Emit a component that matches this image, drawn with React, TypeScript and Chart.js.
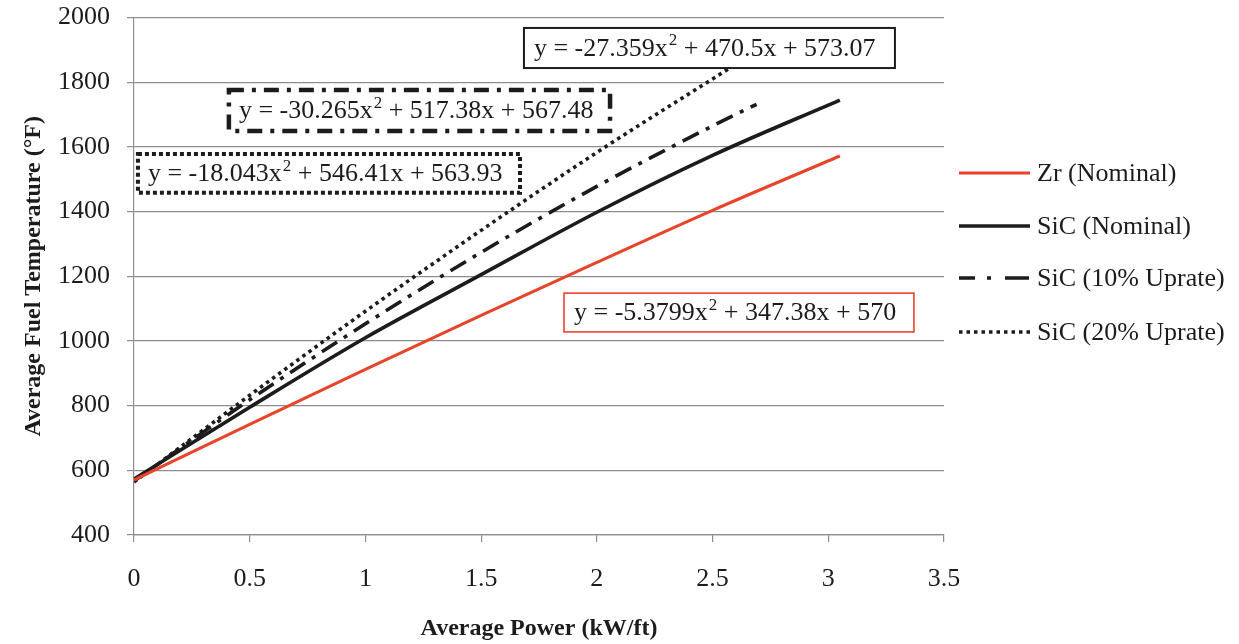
import React, { useEffect, useRef } from "react";
import { Chart, registerables } from "chart.js";

Chart.register(...registerables);

// Average linear power (kW/ft) and average fuel temperature (°F) per case
const powerZr = [0, 0.5, 1, 1.5, 2, 2.5, 3.05];
const tempZr = [570, 742, 912, 1079, 1243, 1404, 1572];

const powerSiC = [0, 0.5, 1, 1.5, 2, 2.5, 3.05];
const tempSiC = [573, 795, 1010, 1205, 1398, 1574, 1745];

const powerSiC10 = [0, 0.5, 1, 1.5, 2, 2.5, 2.69];
const tempSiC10 = [567, 818, 1053, 1274, 1478, 1665, 1732];

const powerSiC20 = [0, 0.5, 1, 1.5, 2, 2.57];
const tempSiC20 = [564, 832, 1092, 1342, 1583, 1842];

const seriesNames = ["Zr (Nominal)", "SiC (Nominal)", "SiC (10% Uprate)", "SiC (20% Uprate)"];

// Quadratic trendline equations: [text before exponent, exponent, text after]
const fitZr = ["y = -5.3799x", "2", " + 347.38x + 570"];
const fitSiC = ["y = -27.359x", "2", " + 470.5x + 573.07"];
const fitSiC10 = ["y = -30.265x", "2", " + 517.38x + 567.48"];
const fitSiC20 = ["y = -18.043x", "2", " + 546.41x + 563.93"];

const xTickLabels = ["0", "0.5", "1", "1.5", "2", "2.5", "3", "3.5"];

const RED = "#e8442b";
const INK = "#1c1c1c";
const GRID = "#8e8e8e";
const SERIF = "'Liberation Serif', 'Times New Roman', serif";

const DASH_DOT = [18, 8, 4, 8];
const DOTTED = [3.5, 4];

type Style = { color: string; width: number; dash: number[] };
const styles: Style[] = [
  { color: RED, width: 3, dash: [] },
  { color: INK, width: 3.6, dash: [] },
  { color: INK, width: 3.6, dash: DASH_DOT },
  { color: INK, width: 3.6, dash: DOTTED },
];

// Equation boxes, placed in axis units (x1, x2 in kW/ft; yTop, yBottom in °F)
const fitBoxes = [
  { parts: fitSiC, x1: 1.685, x2: 3.288, yTop: 1968, yBottom: 1844, border: INK, width: 2, dash: [] as number[] },
  { parts: fitSiC10, x1: 0.41, x2: 2.057, yTop: 1776, yBottom: 1649, border: INK, width: 4.5, dash: [15, 8, 4, 8] },
  { parts: fitSiC20, x1: 0.017, x2: 1.668, yTop: 1578, yBottom: 1458, border: INK, width: 4, dash: [4, 3] },
  { parts: fitZr, x1: 1.858, x2: 3.37, yTop: 1148, yBottom: 1028, border: RED, width: 1.6, dash: [] },
];

const toPoints = (xs: number[], ys: number[]) => xs.map((x, i) => ({ x, y: ys[i] }));

const overlayPlugin = {
  id: "fitBoxesAndLegend",
  afterDraw(chart: any) {
    const { ctx, scales } = chart;
    const xs = scales.x;
    const ys = scales.y;
    ctx.save();

    // trendline equation boxes
    for (const b of fitBoxes) {
      const l = xs.getPixelForValue(b.x1);
      const r = xs.getPixelForValue(b.x2);
      const t = ys.getPixelForValue(b.yTop);
      const bt = ys.getPixelForValue(b.yBottom);
      ctx.fillStyle = "#ffffff";
      ctx.fillRect(l, t, r - l, bt - t);
      ctx.strokeStyle = b.border;
      ctx.lineWidth = b.width;
      ctx.setLineDash(b.dash);
      ctx.lineCap = "butt";
      ctx.strokeRect(l, t, r - l, bt - t);
      ctx.setLineDash([]);

      const cy = (t + bt) / 2;
      let tx = l + 10;
      ctx.fillStyle = INK;
      ctx.textBaseline = "middle";
      ctx.textAlign = "left";
      ctx.font = `26px ${SERIF}`;
      ctx.fillText(b.parts[0], tx, cy + 1);
      tx += ctx.measureText(b.parts[0]).width + 1;
      ctx.font = `17px ${SERIF}`;
      ctx.fillText(b.parts[1], tx, cy - 7);
      tx += ctx.measureText(b.parts[1]).width;
      ctx.font = `26px ${SERIF}`;
      ctx.fillText(b.parts[2], tx, cy + 1);
    }

    // legend
    const lx1 = 959;
    const lx2 = 1030;
    const rowY = [173, 226, 278, 332];
    seriesNames.forEach((name, i) => {
      const s = styles[i];
      const y = rowY[i];
      ctx.strokeStyle = s.color;
      ctx.lineWidth = s.width;
      ctx.setLineDash(i === 2 ? [16, 12, 4, 14, 24] : s.dash);
      ctx.beginPath();
      ctx.moveTo(lx1, y);
      ctx.lineTo(lx2, y);
      ctx.stroke();
      ctx.setLineDash([]);
      ctx.fillStyle = INK;
      ctx.font = `26px ${SERIF}`;
      ctx.textAlign = "left";
      ctx.textBaseline = "middle";
      ctx.fillText(name, 1037, y + 1);
    });
    ctx.restore();
  },
};

export default function App() {
  const canvasRef = useRef<HTMLCanvasElement | null>(null);

  useEffect(() => {
    if (!canvasRef.current) return;
    const series = [
      toPoints(powerZr, tempZr),
      toPoints(powerSiC, tempSiC),
      toPoints(powerSiC10, tempSiC10),
      toPoints(powerSiC20, tempSiC20),
    ];
    const chart = new Chart(canvasRef.current, {
      type: "line",
      data: {
        datasets: series.map((data, i) => ({
          label: seriesNames[i],
          data,
          borderColor: styles[i].color,
          borderWidth: styles[i].width,
          borderDash: styles[i].dash,
          borderCapStyle: "butt",
          pointRadius: 0,
          fill: false,
          cubicInterpolationMode: "monotone",
        })),
      },
      options: {
        animation: false,
        responsive: false,
        devicePixelRatio: 1,
        layout: { padding: { left: 0, right: 295, top: 17.6, bottom: 0 } },
        plugins: { legend: { display: false }, tooltip: { enabled: false } },
        scales: {
          x: {
            type: "linear",
            min: 0,
            max: 3.5,
            afterFit: (s: any) => {
              s.height = 109;
              s.paddingLeft = 0;
              s.paddingRight = 0;
            },
            afterBuildTicks: (s: any) => {
              s.ticks = xTickLabels.map((t) => ({ value: parseFloat(t) }));
            },
            ticks: {
              font: { family: SERIF, size: 26 },
              color: INK,
              padding: 22,
              maxRotation: 0,
              autoSkip: false,
              callback: (v: any) => xTickLabels.find((t) => parseFloat(t) === v) ?? "",
            },
            grid: { drawOnChartArea: false, drawTicks: true, tickLength: 7, color: GRID, lineWidth: 1.2 },
            border: { color: GRID, width: 1.2 },
            title: {
              display: true,
              text: "Average Power (kW/ft)",
              font: { family: SERIF, size: 24, weight: "bold" },
              color: INK,
              padding: { top: 0, bottom: 1 },
            },
          },
          y: {
            type: "linear",
            min: 400,
            max: 2000,
            afterFit: (s: any) => {
              s.width = 134;
              s.paddingTop = 0;
              s.paddingBottom = 0;
            },
            ticks: {
              stepSize: 200,
              font: { family: SERIF, size: 26 },
              color: INK,
              padding: 17,
              callback: (v: any) => String(v),
            },
            grid: { color: GRID, tickLength: 7, lineWidth: 1.2 },
            border: { color: GRID, width: 1.2 },
            title: {
              display: true,
              text: "Average Fuel Temperature (°F)",
              font: { family: SERIF, size: 24, weight: "bold" },
              color: INK,
              padding: { top: 19, bottom: 0 },
            },
          },
        },
      },
      plugins: [overlayPlugin],
    } as any);
    return () => chart.destroy();
  }, []);

  return (
    <div style={{ position: "fixed", left: 0, top: 0, width: 1239, height: 644, background: "#ffffff" }}>
      <canvas ref={canvasRef} width={1239} height={644} />
    </div>
  );
}
